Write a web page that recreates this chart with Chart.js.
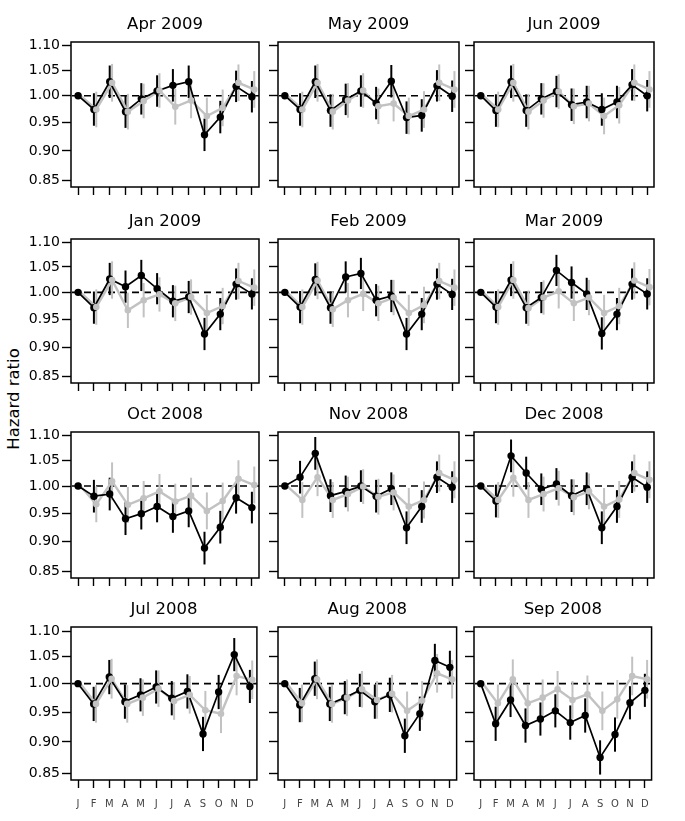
<!DOCTYPE html>
<html>
<head>
<meta charset="utf-8">
<script src="https://cdn.jsdelivr.net/npm/chart.js@4.4.1/dist/chart.umd.min.js"></script>
<style>
  body { margin: 0; background: #fff; }
  #wrap { position: relative; width: 685px; height: 821px; }
  #wrap canvas { position: absolute; }
  #ylab {
    position: absolute; left: 13px; top: 399px;
    transform: translate(-50%, -50%) rotate(-90deg);
    font: 16.5px 'DejaVu Sans', sans-serif; white-space: nowrap; color: #000;
  }
</style>
</head>
<body>
<div id="wrap"><div id="ylab">Hazard ratio</div></div>
<script>
// month labels and y ticks
const months = ["J", "F", "M", "A", "M", "J", "J", "A", "S", "O", "N", "D"];
const yTicks = [0.85, 0.90, 0.95, 1.00, 1.05, 1.10];

// hazard ratios (black = estimate, gray = comparison)
const apr09Black = [1.000, 0.974, 1.027, 0.970, 0.994, 1.009, 1.020, 1.027, 0.928, 0.960, 1.018, 0.998];
const apr09Gray  = [1.000, 0.974, 1.025, 0.970, 0.990, 1.010, 0.979, 0.991, 0.962, 0.977, 1.025, 1.012];
const may09Black = [1.000, 0.974, 1.027, 0.972, 0.993, 1.009, 0.986, 1.028, 0.959, 0.963, 1.019, 0.999];
const may09Gray  = [1.000, 0.974, 1.025, 0.970, 0.991, 1.010, 0.980, 0.985, 0.962, 0.974, 1.025, 1.012];
const jun09Black = [1.000, 0.972, 1.027, 0.972, 0.994, 1.008, 0.983, 0.988, 0.974, 0.988, 1.021, 1.000];
const jun09Gray  = [1.000, 0.974, 1.025, 0.970, 0.991, 1.008, 0.980, 0.985, 0.962, 0.982, 1.025, 1.012];
const jan09Black = [1.000, 0.971, 1.026, 1.011, 1.033, 1.007, 0.983, 0.991, 0.923, 0.959, 1.016, 0.997];
const jan09Gray  = [1.000, 0.972, 1.024, 0.966, 0.985, 0.996, 0.979, 0.991, 0.961, 0.974, 1.022, 1.009];
const feb09Black = [1.000, 0.972, 1.025, 0.971, 1.030, 1.037, 0.985, 0.993, 0.923, 0.959, 1.016, 0.996];
const feb09Gray  = [1.000, 0.972, 1.023, 0.968, 0.985, 0.997, 0.979, 0.990, 0.961, 0.976, 1.022, 1.009];
const mar09Black = [1.000, 0.972, 1.024, 0.971, 0.990, 1.043, 1.019, 0.997, 0.924, 0.959, 1.016, 0.997];
const mar09Gray  = [1.000, 0.972, 1.024, 0.970, 0.990, 1.002, 0.979, 0.990, 0.961, 0.974, 1.023, 1.010];
const oct08Black = [1.000, 0.981, 0.985, 0.940, 0.949, 0.962, 0.944, 0.954, 0.889, 0.925, 0.978, 0.960];
const oct08Gray  = [1.000, 0.966, 1.009, 0.965, 0.977, 0.990, 0.971, 0.982, 0.954, 0.972, 1.014, 1.002];
const nov08Black = [1.000, 1.017, 1.064, 0.982, 0.990, 1.000, 0.981, 0.995, 0.924, 0.962, 1.017, 0.998];
const nov08Gray  = [1.000, 0.974, 1.017, 0.974, 0.985, 0.999, 0.980, 0.988, 0.962, 0.974, 1.025, 1.012];
const dec08Black = [1.000, 0.972, 1.059, 1.025, 0.994, 1.004, 0.982, 0.995, 0.924, 0.962, 1.017, 0.998];
const dec08Gray  = [1.000, 0.974, 1.016, 0.974, 0.985, 0.996, 0.979, 0.990, 0.962, 0.975, 1.025, 1.012];
const jul08Black = [1.000, 0.964, 1.012, 0.968, 0.980, 0.994, 0.974, 0.986, 0.913, 0.985, 1.054, 0.995];
const jul08Gray  = [1.000, 0.964, 1.009, 0.964, 0.975, 0.991, 0.969, 0.980, 0.953, 0.947, 1.014, 1.007];
const aug08Black = [1.000, 0.962, 1.009, 0.964, 0.975, 0.988, 0.968, 0.980, 0.910, 0.947, 1.043, 1.030];
const aug08Gray  = [1.000, 0.965, 1.008, 0.964, 0.975, 0.990, 0.971, 0.982, 0.952, 0.970, 1.019, 1.008];
const sep08Black = [1.000, 0.930, 0.971, 0.927, 0.938, 0.952, 0.932, 0.944, 0.875, 0.912, 0.966, 0.988];
const sep08Gray  = [1.000, 0.965, 1.008, 0.965, 0.975, 0.990, 0.971, 0.981, 0.952, 0.972, 1.014, 1.008];

// half width of the confidence bars on the log scale (January is the reference)
const blackErr = [0, 0.031, 0.031, 0.031, 0.030, 0.030, 0.031, 0.031, 0.031, 0.031, 0.030, 0.030];
const grayErr  = [0, 0.034, 0.036, 0.034, 0.033, 0.033, 0.034, 0.034, 0.035, 0.035, 0.035, 0.035];

const panels = [
  { title: "Apr 2009", black: apr09Black, gray: apr09Gray },
  { title: "May 2009", black: may09Black, gray: may09Gray },
  { title: "Jun 2009", black: jun09Black, gray: jun09Gray },
  { title: "Jan 2009", black: jan09Black, gray: jan09Gray },
  { title: "Feb 2009", black: feb09Black, gray: feb09Gray },
  { title: "Mar 2009", black: mar09Black, gray: mar09Gray },
  { title: "Oct 2008", black: oct08Black, gray: oct08Gray },
  { title: "Nov 2008", black: nov08Black, gray: nov08Gray },
  { title: "Dec 2008", black: dec08Black, gray: dec08Gray },
  { title: "Jul 2008", black: jul08Black, gray: jul08Gray },
  { title: "Aug 2008", black: aug08Black, gray: aug08Gray },
  { title: "Sep 2008", black: sep08Black, gray: sep08Gray }
];

Chart.defaults.font.family = "'DejaVu Sans', sans-serif";
Chart.defaults.color = "#000";

const GRAY = "#c2c2c2";
const SHIFT = 0.15;   // gray series sits a little to the right
const colBox = [[71, 188], [278, 181], [474, 180]];
const rowBox = [[42, 145], [239, 144], [432, 146], [627, 153]];
const wrap = document.getElementById("wrap");

// box, dashed reference line and error bars
function framePlugin(p) {
  return {
    id: "frame",
    beforeDatasetsDraw(chart) {
      const ctx = chart.ctx, a = chart.chartArea;
      const xs = chart.scales.x, ys = chart.scales.y;
      ctx.save();
      ctx.setLineDash([7, 5]);
      ctx.lineWidth = 1.6;
      ctx.strokeStyle = "#000";
      const y1 = ys.getPixelForValue(1);
      ctx.beginPath(); ctx.moveTo(a.left + 1, y1); ctx.lineTo(a.right, y1); ctx.stroke();
      ctx.setLineDash([]);
      ctx.lineWidth = 2;
      // gray bars first, black on top
      [[p.gray, grayErr, GRAY, SHIFT], [p.black, blackErr, "#000", 0]].forEach(([vals, err, col, dx]) => {
        ctx.strokeStyle = col;
        for (let k = 0; k < vals.length; k++) {
          if (!err[k]) continue;
          const x = xs.getPixelForValue(k + 1 + dx);
          ctx.beginPath();
          ctx.moveTo(x, ys.getPixelForValue(vals[k] * Math.exp(-err[k])));
          ctx.lineTo(x, ys.getPixelForValue(vals[k] * Math.exp(err[k])));
          ctx.stroke();
        }
      });
      ctx.restore();
    },
    afterDraw(chart) {
      const ctx = chart.ctx, a = chart.chartArea;
      ctx.save();
      ctx.lineWidth = 1.5;
      ctx.strokeStyle = "#000";
      ctx.strokeRect(a.left, a.top, a.right - a.left, a.bottom - a.top);
      ctx.restore();
    }
  };
}

panels.forEach((p, i) => {
  const row = Math.floor(i / 3), col = i % 3;
  const L = col === 0 ? 71 : 14, R = 5, T = 42, B = row === 3 ? 36 : 12;
  const [bx, bw] = colBox[col], [by, bh] = rowBox[row];
  const cv = document.createElement("canvas");
  cv.width = L + bw + R; cv.height = T + bh + B;
  cv.style.left = (bx - L) + "px"; cv.style.top = (by - T) + "px";
  wrap.appendChild(cv);

  const blackPts = p.black.map((v, k) => ({ x: k + 1, y: v }));
  const grayPts = p.gray.map((v, k) => ({ x: k + 1 + SHIFT, y: v }));

  new Chart(cv, {
    type: "line",
    data: {
      datasets: [
        { data: grayPts, showLine: false, order: 0,
          pointRadius: c => c.dataIndex === 0 ? 0 : 3.3, pointBorderWidth: 0,
          pointBackgroundColor: GRAY },
        { data: blackPts, order: 1, borderColor: "#000", borderWidth: 1.7,
          pointRadius: 3.7, pointBorderWidth: 0, pointBackgroundColor: "#000" },
        { data: grayPts, order: 2, borderColor: GRAY, borderWidth: 2.4, pointRadius: 0 }
      ]
    },
    options: {
      responsive: false, animation: false, devicePixelRatio: 1,
      layout: { padding: { left: 0, right: R, top: 0, bottom: 0 } },
      plugins: {
        legend: { display: false }, tooltip: { enabled: false },
        title: { display: true, text: p.title, fullSize: false, color: "#000",
                 font: { size: 16.5, weight: "normal" }, padding: { top: 15, bottom: 7.2 } }
      },
      scales: {
        x: {
          type: "linear", min: 0.55, max: 12.45,
          afterBuildTicks: s => { s.ticks = months.map((m, k) => ({ value: k + 1 })); },
          afterFit: s => { s.height = B; },
          ticks: { display: row === 3, autoSkip: false, maxRotation: 0, padding: 10,
                   color: "#444", font: { size: 10 }, callback: v => months[v - 1] },
          grid: { drawOnChartArea: false, tickLength: 8, tickColor: "#000", tickWidth: 1.4 },
          border: { display: false }
        },
        y: {
          type: "logarithmic", min: 0.843, max: 1.108,
          afterBuildTicks: s => { s.ticks = yTicks.map(v => ({ value: v })); },
          afterFit: s => { s.width = L; },
          ticks: { display: col === 0, padding: 2, font: { size: 14 }, callback: v => v.toFixed(2) },
          grid: { drawOnChartArea: false, tickLength: 9, tickColor: "#000", tickWidth: 1.4 },
          border: { display: false }
        }
      }
    },
    plugins: [framePlugin(p)]
  });
});
</script>
</body>
</html>
